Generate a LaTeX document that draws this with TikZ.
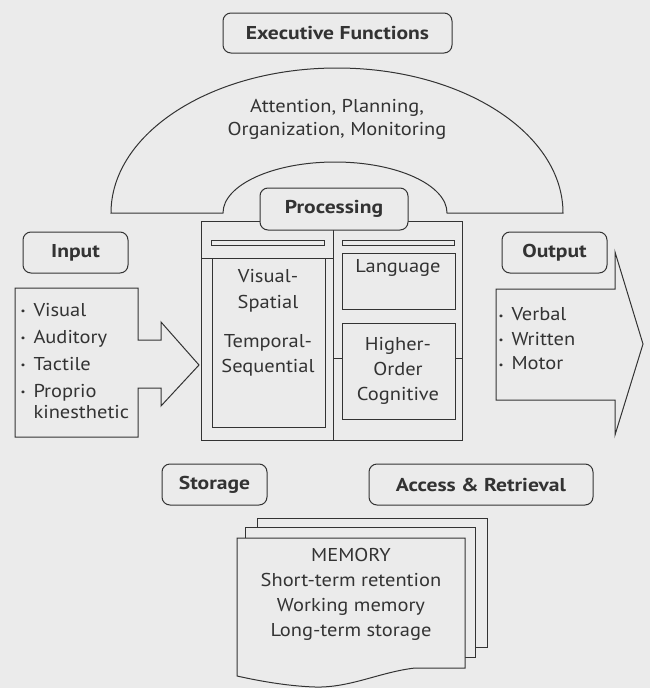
\documentclass[tikz,border=0pt]{standalone}
\usepackage{fontspec}
\setmainfont{PT Sans}[FakeStretch=1.1]
\newfontfamily\tagfont{PT Sans}[FakeStretch=1.16]
\definecolor{paper}{HTML}{EBEBEB}
\definecolor{ink}{HTML}{333333}
\newcommand{\bul}{\makebox[13pt][l]{\raisebox{.2ex}{\fontsize{10}{10}\selectfont\textbullet}}}
\tikzset{
    tagbox/.style={draw,rounded corners=8pt,fill=paper,inner sep=0pt,
        font=\tagfont\bfseries\fontsize{18.6}{20}\selectfont},
    body/.style={align=center,inner sep=0pt,font=\fontsize{18.6}{24}\selectfont},
    bullets/.style={align=left,inner sep=0pt,anchor=west},
}
\begin{document}
\begin{tikzpicture}[x=1pt,y=-1pt,color=ink,line width=1pt]
    \fill[paper] (0,0) rectangle (650,688);
    \useasboundingbox (0,0) rectangle (650,688);

    % arch of the executive functions
    \draw (111,213) .. controls (111,133) and (212,68) .. (337,68)
        .. controls (462,68) and (563,133) .. (563,213) -- (447,213)
        .. controls (447,185) and (397,162) .. (335,162)
        .. controls (273,162) and (223,185) .. (223,213) -- cycle;

    % processing frame
    \draw (201,221) rectangle (462,440);
    \draw (333,221) -- (333,440);
    \draw (201,258) -- (333,258);
    \draw (212,258) rectangle (325,427);
    \draw[line width=.8pt] (211,240) rectangle (324,245);
    \draw[line width=.8pt] (342,240) rectangle (454,245);
    \draw (342,253) rectangle (455,309);
    \draw (342,323) rectangle (455,419);
    \draw (333,358) -- (342,358) (455,358) -- (462,358);

    % input and output arrows
    \draw (15,288) -- (138,288) -- (138,340) -- (161,340) -- (161,322) -- (199,365)
        -- (161,406) -- (161,388) -- (138,388) -- (138,437) -- (15,437) -- cycle;
    \draw (496,289) -- (615,289) -- (615,252) -- (643,344) -- (615,435)
        -- (615,400) -- (496,400) -- cycle;

    % memory pages
    \draw[fill=paper] (257,518) rectangle (487,647);
    \draw[fill=paper] (245,527) rectangle (475,657);
    \draw[fill=paper] (237,538) -- (465,538) -- (465,668) -- (415,668)
        .. controls (380,672) and (350,688) .. (315,687)
        .. controls (285,686) and (255,680) .. (237,676) -- cycle;

    \begin{scope}[every node/.style={tagbox}]
        \node (exec) [minimum width=229,minimum height=40] at (337.5,33) {Executive Functions};
        \node (proc) [minimum width=148,minimum height=42] at (334,209) {Processing};
        \node (in) [minimum width=105,minimum height=41] at (75.5,252.5) {Input};
        \node (out) [minimum width=105,minimum height=41] at (554.5,252.5) {Output};
        \node (store) [minimum width=105,minimum height=41] at (214.5,484.5) {Storage};
        \node (access) [minimum width=224,minimum height=41] at (481,484.5) {Access \& Retrieval};
    \end{scope}

    \begin{scope}[every node/.style={body}]
        \node (attn) [font=\fontsize{18.6}{23}\selectfont] at (337,119) {Attention, Planning,\\Organization, Monitoring};
        \node (vis) [font=\fontsize{18.6}{26}\selectfont] at (268,291) {Visual-\\Spatial};
        \node (temp) [font=\fontsize{18.6}{25}\selectfont] at (268,355) {Temporal-\\Sequential};
        \node (lang) at (398,268) {Language};
        \node (high) [font=\fontsize{18.6}{25}\selectfont] at (398,371) {Higher-\\Order\\Cognitive};
        \node (mem) [font=\fontsize{18.6}{25}\selectfont] at (351,594) {MEMORY\\Short-term retention\\Working memory\\Long-term storage};
        \node (inlist) [bullets,font=\fontsize{18.6}{21}\selectfont] at (20,361)
            {\bul Visual\\[6pt]\bul Auditory\\[6pt]\bul Tactile\\[6pt]\bul Proprio\\\hspace*{13pt}kinesthetic};
        \node (outlist) [bullets,font=\fontsize{18.6}{24.5}\selectfont] at (498,339)
            {\bul Verbal\\\bul Written\\\bul Motor};
    \end{scope}
\end{tikzpicture}
\end{document}
